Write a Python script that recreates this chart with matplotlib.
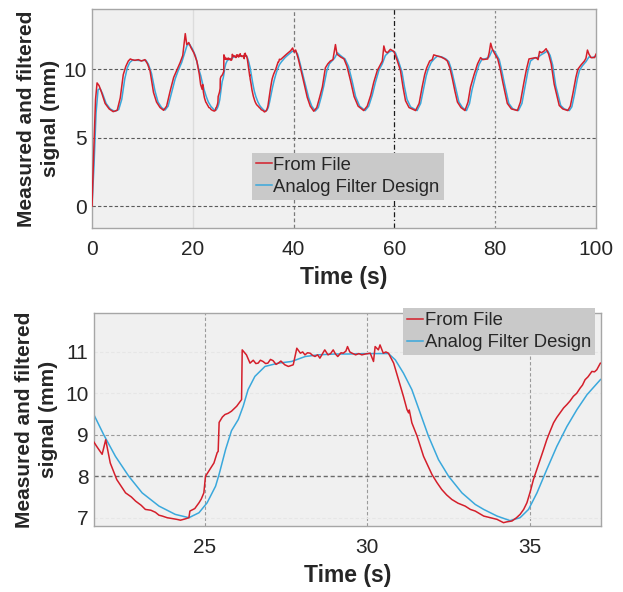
import numpy as np
import matplotlib.pyplot as plt

plt.rcParams['font.family'] = ['Liberation Sans', 'DejaVu Sans']

# measured signal (From File), seconds / mm
t_file = [0, 0.3, 0.7, 1.0, 1.4, 1.9, 2.6, 3.4, 4.2, 5.0, 5.6, 6.2, 6.7, 7.2, 7.6, 7.9,
          8.5, 9.2, 9.8, 10.5, 11.0, 11.5, 12.2, 12.8, 13.5, 14.2, 14.8, 15.5, 16.2,
          16.8, 17.5, 18.0, 18.5, 18.8, 19.2, 19.6, 20.2, 20.8, 21.3,
          21.55, 21.7, 21.85, 21.96, 22.1, 22.3, 22.57, 22.75, 22.88, 23.05, 23.18,
          23.35, 23.49, 23.6, 23.7, 23.85, 24.0, 24.15, 24.26, 24.4, 24.52, 24.55,
          24.7, 24.83, 24.9, 24.98, 25.03, 25.15, 25.29, 25.39, 25.42, 25.45, 25.55,
          25.63, 25.73, 25.83, 25.99, 26.14, 26.16, 26.29, 26.4, 26.5, 26.58, 26.65,
          26.72, 26.8, 26.88, 26.95, 27.03, 27.11, 27.2, 27.27, 27.35, 27.47, 27.58,
          27.73, 27.84, 27.95, 28.02, 28.09, 28.17, 28.25, 28.32, 28.4, 28.48, 28.55,
          28.7, 28.8, 28.88, 28.96, 29.03, 29.1, 29.2, 29.27, 29.35, 29.4, 29.47,
          29.54, 29.65, 29.75, 29.84, 29.95, 30.1, 30.2, 30.25, 30.35, 30.4, 30.5,
          30.58, 30.66, 30.82, 30.97, 31.12, 31.23, 31.28, 31.3, 31.38, 31.54, 31.74,
          32.0, 32.15, 32.3, 32.45, 32.61, 32.8, 33.02, 33.18, 33.33, 33.59, 33.8,
          34.0, 34.1, 34.2, 34.3, 34.46, 34.6, 34.71, 34.82, 34.92, 35.02, 35.12,
          35.22, 35.33, 35.43, 35.53, 35.64, 35.74, 35.84, 35.94, 36.05, 36.15, 36.25,
          36.35, 36.45, 36.56, 36.63, 36.71, 36.8, 36.92, 37.0, 37.07, 37.18,
          37.4, 38.0, 38.6, 39.4, 39.8, 40.1, 40.4, 40.9, 41.8, 42.7, 43.3, 44.0,
          44.6, 45.2, 45.7, 46.3, 46.8, 47.3, 47.8, 48.3, 48.6, 49.3, 50.0, 50.6,
          51.3, 52.0, 52.8, 53.9, 54.6, 55.3, 55.9, 56.6, 57.3, 57.6, 57.9, 58.2,
          58.6, 59.2, 59.9, 60.5, 61.2, 61.7, 62.2, 62.9, 64.2, 64.9, 65.5, 66.0,
          66.4, 67.0, 67.5, 67.8, 68.2, 69.2, 70.0, 70.5, 71.0, 71.5, 72.0, 72.5,
          73.2, 74.0, 74.6, 75.1, 75.8, 76.5, 77.1, 77.5, 78.5, 78.8, 79.1, 79.4,
          79.8, 80.5, 81.0, 81.5, 82.4, 83.2, 84.4, 85.0, 85.7, 86.2, 86.7, 87.4,
          88.1, 88.5, 88.8, 89.1, 89.6, 90.1, 90.6, 91.1, 91.7, 92.7, 93.4, 94.4,
          94.9, 95.4, 96.0, 96.4, 97.0, 97.7, 98.0, 98.3, 98.6, 99.0, 99.7, 100.0]
y_file = [0, 3.5, 7.8, 9.0, 8.8, 8.3, 7.5, 7.1, 6.9, 7.0, 7.9, 9.6, 10.2, 10.6, 10.75, 10.7,
          10.65, 10.7, 10.6, 10.7, 10.4, 9.9, 8.3, 7.6, 7.2, 7.0, 7.3, 8.4, 9.4,
          9.9, 10.5, 11.0, 12.6, 11.8, 11.95, 11.6, 11.2, 10.6, 9.6,
          8.88, 8.7, 8.53, 8.88, 8.32, 7.92, 7.6, 7.5, 7.4, 7.3, 7.2,
          7.18, 7.13, 7.06, 7.04, 7.0, 6.98, 6.96, 6.94, 6.97, 7.0, 7.16,
          7.22, 7.36, 7.45, 7.6, 8.0, 8.15, 8.32, 8.57, 8.6, 9.3, 9.43,
          9.49, 9.52, 9.57, 9.69, 9.85, 11.05, 10.93, 10.73, 10.8, 10.72, 10.73,
          10.8, 10.77, 10.72, 10.73, 10.82, 10.79, 10.7, 10.73, 10.78, 10.69, 10.65,
          10.69, 11.09, 10.97, 11.0, 10.93, 10.98, 10.97, 10.92, 10.89, 10.93, 10.85,
          11.05, 10.93, 10.96, 11.05, 10.95, 10.89, 10.98, 10.97, 11.02, 11.13, 11.0,
          10.97, 10.93, 10.96, 10.93, 10.95, 10.97, 10.77, 11.13, 11.05, 11.17, 10.97,
          11.0, 10.97, 10.73, 10.33, 9.93, 9.61, 9.53, 9.6, 9.29, 8.97, 8.48,
          8.04, 7.85, 7.68, 7.55, 7.44, 7.35, 7.28, 7.2, 7.16, 7.04, 7.0,
          6.96, 6.92, 6.88, 6.9, 6.92, 7.0, 7.08, 7.2, 7.36, 7.62, 7.92,
          8.15, 8.4, 8.64, 8.88, 9.1, 9.29, 9.42, 9.53, 9.65, 9.73, 9.82,
          9.93, 10.0, 10.13, 10.2, 10.33, 10.4, 10.53, 10.52, 10.57, 10.73,
          10.7, 10.9, 11.1, 11.35, 11.55, 11.25, 11.4, 10.8, 9.4, 7.95, 7.3, 6.93,
          7.2, 8.0, 8.7, 10.1, 10.4, 10.6, 10.7, 11.8, 11.1, 10.9, 10.75, 10.2,
          9.15, 8.0, 7.3, 6.98, 7.3, 8.1, 9.05, 9.9, 10.4, 10.6, 11.7, 11.3,
          11.2, 11.45, 11.3, 10.7, 9.9, 8.7, 7.7, 7.2, 6.98, 7.5, 8.7, 9.6,
          10.1, 10.6, 10.7, 11.05, 11.0, 10.9, 10.75, 10.6, 10.1, 9.3, 8.4, 7.6,
          7.2, 6.98, 7.6, 8.7, 9.6, 10.4, 10.85, 10.7, 10.75, 11.2, 11.9, 11.5,
          11.2, 10.75, 10.0, 9.05, 7.5, 7.1, 6.98, 7.6, 9.05, 10.0, 10.75, 10.8,
          10.85, 10.7, 11.3, 11.2, 11.3, 11.5, 11.1, 10.4, 8.9, 7.35, 7.1, 6.98,
          7.3, 8.2, 9.4, 10.0, 10.3, 10.6, 10.8, 11.4, 11.1, 10.85, 10.85, 11.1]

# filtered signal (Analog Filter Design)
t_filt = [0, 0.4, 0.8, 1.2, 1.6, 2.1, 2.8, 3.6, 4.5, 5.3, 5.9, 6.5, 7.0, 7.5, 8.0, 9.0,
          9.8, 10.7, 11.2, 11.8, 12.5, 13.1, 13.8, 14.5, 15.1, 15.8, 16.5, 17.1, 17.8,
          18.4, 18.9, 19.4, 19.9, 20.5, 21.1,
          21.55, 21.9, 22.26, 22.67, 23.08, 23.6, 24.1, 24.52, 24.83, 25.08, 25.34,
          25.45, 25.55, 25.65, 25.83, 26.04, 26.19, 26.34, 26.55, 26.86, 27.27, 27.68,
          28.1, 28.5, 29.0, 29.4, 30.0, 30.66, 30.87, 31.12, 31.38, 31.64, 31.89,
          32.2, 32.51, 32.92, 33.33, 33.59, 34.0, 34.4, 34.71, 34.97, 35.23, 35.53,
          35.84, 36.15, 36.46, 36.77, 37.18,
          37.6, 38.3, 38.9, 39.7, 40.3, 40.8, 41.3, 42.1, 43.0, 43.6, 44.3, 44.9,
          45.5, 46.0, 46.6, 47.1, 47.6, 48.1, 48.7, 49.3, 50.2, 50.9, 51.6, 52.3,
          53.1, 54.2, 54.9, 55.6, 56.2, 56.9, 57.6, 58.2, 58.9, 59.5, 60.2, 60.8,
          61.5, 62.0, 62.5, 63.2, 64.5, 65.2, 65.8, 66.3, 66.7, 67.3, 68.0, 68.5,
          69.4, 70.2, 70.8, 71.3, 71.8, 72.3, 72.8, 73.5, 74.3, 74.9, 75.4, 76.1,
          76.8, 77.4, 78.0, 78.8, 79.4, 79.9, 80.2, 80.8, 81.3, 81.8, 82.7, 83.5,
          84.6, 85.3, 86.0, 86.5, 87.0, 87.7, 88.4, 89.1, 89.8, 90.4, 90.9, 91.4,
          92.0, 93.0, 93.7, 94.7, 95.2, 95.7, 96.3, 96.7, 97.3, 98.0, 98.6, 99.2,
          100.0]
y_filt = [0, 3.0, 6.8, 8.5, 8.6, 8.2, 7.5, 7.1, 6.92, 7.05, 7.8, 9.3, 10.1, 10.5, 10.65, 10.65,
          10.62, 10.65, 10.35, 9.7, 8.4, 7.6, 7.2, 7.02, 7.3, 8.3, 9.3, 9.9, 10.5,
          11.2, 11.8, 11.8, 11.5, 11.0, 10.1,
          9.56, 9.0, 8.48, 8.0, 7.6, 7.28, 7.08, 7.0, 7.12, 7.36, 7.76,
          8.05, 8.35, 8.65, 9.1, 9.37, 9.69, 10.09, 10.41, 10.65, 10.73, 10.77,
          10.89, 10.93, 10.95, 10.95, 10.96, 10.96, 10.81, 10.49, 10.09, 9.52, 8.97,
          8.4, 8.0, 7.6, 7.32, 7.2, 7.04, 6.93, 7.0, 7.2, 7.6, 8.16,
          8.72, 9.2, 9.61, 9.97, 10.33,
          10.55, 10.85, 11.05, 11.3, 11.35, 11.1, 10.4, 9.2, 7.9, 7.3, 6.95, 7.2,
          8.0, 8.8, 9.9, 10.4, 10.6, 10.8, 11.2, 11.0, 10.75, 10.2, 9.15, 8.0,
          7.3, 6.98, 7.3, 8.1, 9.0, 9.9, 10.4, 11.0, 11.25, 11.35, 11.2, 10.6,
          9.8, 8.7, 7.8, 7.25, 6.98, 7.5, 8.6, 9.5, 10.0, 10.5, 10.8, 10.95,
          10.9, 10.75, 10.55, 10.0, 9.2, 8.4, 7.6, 7.2, 6.98, 7.5, 8.5, 9.5,
          10.35, 10.75, 10.75, 10.9, 11.4, 11.3, 11.1, 10.7, 9.9, 9.0, 7.5, 7.1,
          6.98, 7.5, 8.9, 9.9, 10.6, 10.8, 10.85, 11.05, 11.2, 11.35, 11.0, 10.3,
          8.8, 7.35, 7.1, 6.98, 7.25, 8.1, 9.3, 9.9, 10.25, 10.55, 10.9, 10.85,
          10.95]

labels = ['From File', 'Analog Filter Design']
top_xticks = [0, 20, 40, 60, 80, 100]
top_yticks = [0, 5, 10]
zoom_xticks = [25, 30, 35]
zoom_yticks = [7, 8, 9, 10, 11]

red = '#d41f2b'
blue = '#3aa8dc'
bg = '#f0f0f0'
text_col = '#262626'

fig = plt.figure(figsize=(6.23, 5.92), dpi=100)
ax1 = fig.add_axes([0.1477, 0.6149, 0.809, 0.3699])
ax2 = fig.add_axes([0.1509, 0.1115, 0.8138, 0.3598])


def style_axes(ax, ylabelpad):
    ax.set_facecolor(bg)
    for s in ax.spines.values():
        s.set_color('#a6a6a6')
        s.set_linewidth(1.0)
    ax.tick_params(length=0, labelsize=15, colors=text_col)
    ax.tick_params(axis='x', pad=8.5)
    ax.tick_params(axis='y', pad=4)
    ax.set_xlabel('Time (s)', fontsize=16.5, fontweight='bold', color=text_col, labelpad=5)
    ax.set_ylabel('Measured and filtered\nsignal (mm)', fontsize=15, fontweight='bold',
                  color=text_col, linespacing=1.35, labelpad=ylabelpad)


for ax, lp in ((ax1, 2), (ax2, 5)):
    ax.plot(t_file, y_file, color=red, lw=1.1, label=labels[0], zorder=3)
    ax.plot(t_filt, y_filt, color=blue, lw=1.1, label=labels[1], zorder=2)
    style_axes(ax, lp)

# full record
ax1.set_xlim(0, 100)
ax1.set_ylim(-1.6, 14.4)
ax1.set_xticks(top_xticks)
ax1.set_yticks(top_yticks)
ax1.grid(axis='y', linestyle=(0, (3, 2)), color='#5a5a5a', lw=0.8)
ax1.grid(axis='x')
xgrid_styles = [None,
                dict(color='#dcdcdc', ls='-', lw=1.0),
                dict(color='#7a7a7a', ls=(0, (3, 2)), lw=0.9),
                dict(color='#1a1a1a', ls=(0, (4, 2, 1, 2)), lw=0.9),
                dict(color='#8a8a8a', ls=(0, (2, 2)), lw=0.9),
                None]
for gl, st in zip(ax1.get_xgridlines(), xgrid_styles):
    if st is None:
        gl.set_visible(False)
    else:
        gl.set_color(st['color'])
        gl.set_linestyle(st['ls'])
        gl.set_linewidth(st['lw'])

legend_kw = dict(fontsize=13.3, frameon=True, fancybox=False, facecolor='#c9c9c9',
                 edgecolor='none', framealpha=1, handlelength=0.85, handletextpad=0.1,
                 borderpad=0.22, labelspacing=0.28, borderaxespad=0)

leg1 = ax1.legend(loc='lower left', bbox_to_anchor=(0.317, 0.128), **legend_kw)
for txt in leg1.get_texts():
    txt.set_color(text_col)

# zoomed window
ax2.set_xlim(21.6, 37.2)
ax2.set_ylim(6.8, 11.94)
ax2.set_xticks(zoom_xticks)
ax2.set_yticks(zoom_yticks)
ax2.grid(axis='x', linestyle=(0, (3, 2)), color='#9a9a9a', lw=0.8)
ax2.grid(axis='y')
ygrid_styles = [dict(color='#e6e6e6', ls=(0, (3, 2)), lw=0.8),
                dict(color='#6a6a6a', ls=(0, (3, 2)), lw=1.0),
                dict(color='#9a9a9a', ls=(0, (3, 2)), lw=0.8),
                dict(color='#e6e6e6', ls=(0, (3, 2)), lw=0.8),
                dict(color='#e6e6e6', ls=(0, (3, 2)), lw=0.8)]
for gl, st in zip(ax2.get_ygridlines(), ygrid_styles):
    gl.set_color(st['color'])
    gl.set_linestyle(st['ls'])
    gl.set_linewidth(st['lw'])

leg2 = ax2.legend(loc='upper right', bbox_to_anchor=(0.988, 1.0235), **legend_kw)
for txt in leg2.get_texts():
    txt.set_color(text_col)

fig.savefig('out.png', dpi=100)
